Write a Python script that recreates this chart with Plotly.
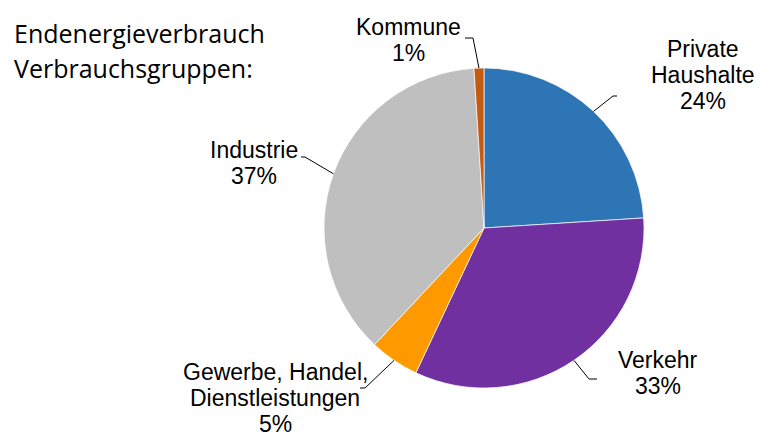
import math
import plotly.graph_objects as go

# ---- data ----
labels = ["Private<br>Haushalte", "Verkehr", "Gewerbe, Handel,<br>Dienstleistungen", "Industrie", "Kommune"]
values = [24, 33, 5, 37, 1]
colors = ["#2E75B6", "#7030A0", "#FF9900", "#BFBFBF", "#C55A11"]
title_lines = ["Endenergieverbrauch", "Verbrauchsgruppen:"]

W, H = 759, 432
CX, CY, R = 484, 228, 160
LINE = 26  # label line spacing in px

# label layout (pixel positions: text centre x, first-line centre y, leader elbow and end)
label_layout = [
    dict(tx=703, ty=49, elbow=(613, 96), end=(617, 96)),
    dict(tx=658, ty=360, elbow=(589, 379), end=(597, 379)),
    dict(tx=275, ty=372, elbow=(365, 388), end=(360, 388)),
    dict(tx=254, ty=150, elbow=(305, 157), end=(301, 157)),
    dict(tx=408, ty=27, elbow=(473, 38), end=(465, 38)),
]

def px(x):
    return x / W

def py(y):
    return 1 - y / H

fig = go.Figure()
fig.add_trace(go.Pie(
    labels=labels, values=values, sort=False, direction="clockwise", rotation=0,
    marker=dict(colors=colors, line=dict(color="white", width=0.7)),
    textinfo="none", hoverinfo="label+percent", showlegend=False,
    domain=dict(x=[px(CX - R), px(CX + R)], y=[py(CY + R), py(CY - R)]),
))

total = sum(values)
cum = 0
shapes = []
annotations = []
font_lbl = dict(family="Liberation Sans, Arial", size=23, color="#000000")
for lab, v, lay in zip(labels, values, label_layout):
    theta = 2 * math.pi * (cum + v / 2) / total
    cum += v
    sx = CX + R * math.sin(theta)
    sy = CY - R * math.cos(theta)
    ex, ey = lay["elbow"]
    fx, fy = lay["end"]
    path = f"M {px(sx)},{py(sy)} L {px(ex)},{py(ey)} L {px(fx)},{py(fy)}"
    shapes.append(dict(type="path", xref="paper", yref="paper", path=path,
                       line=dict(color="#000000", width=1)))
    pct = round(100 * v / total)
    rows = lab.split("<br>") + [f"{pct}%"]
    for i, row in enumerate(rows):
        annotations.append(dict(
            x=px(lay["tx"]), y=py(lay["ty"] + LINE * i), xref="paper", yref="paper",
            text=row, showarrow=False, align="center",
            xanchor="center", yanchor="middle", font=font_lbl))

title_font = dict(family="Open Sans, Noto Sans", size=25, color="#000000")
for i, t in enumerate(title_lines):
    annotations.append(dict(
        x=px(12), y=py(33 + 35 * i), xref="paper", yref="paper", text=t,
        showarrow=False, xanchor="left", yanchor="middle", font=title_font))

fig.update_layout(
    width=W, height=H, margin=dict(l=0, r=0, t=0, b=0),
    paper_bgcolor="white", plot_bgcolor="white",
    shapes=shapes, annotations=annotations,
)
fig.write_html("out.html")
